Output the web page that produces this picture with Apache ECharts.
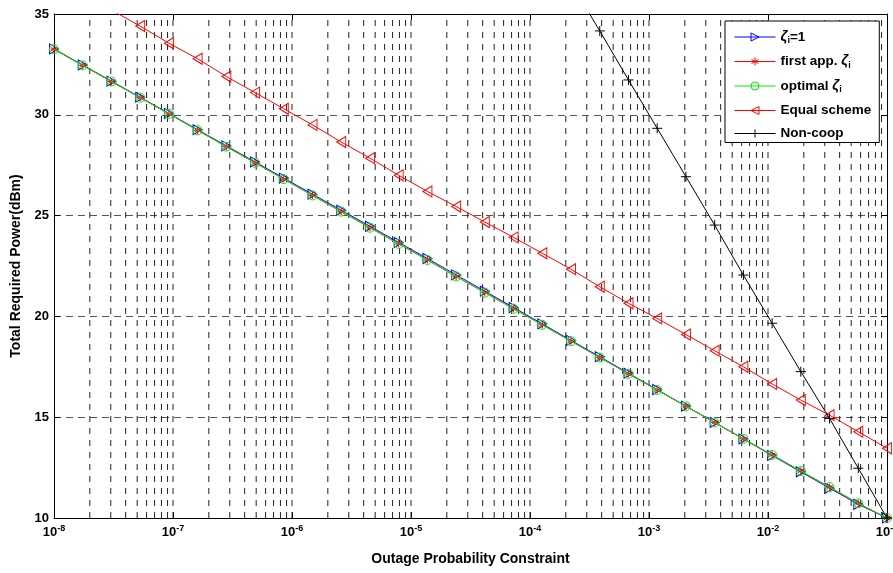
<!DOCTYPE html>
<html>
<head>
<meta charset="utf-8">
<script src="https://cdn.jsdelivr.net/npm/echarts@6/dist/echarts.min.js"></script>
<style>
html,body{margin:0;padding:0;background:#fff;}
#chart{width:893px;height:573px;}
</style>
</head>
<body>
<div id="chart"></div>
<script>
// Outage probability constraint (x), 30 points, log-spaced from 1e-8 to 1e-1
const xValues = [1e-8, 1.743e-8, 3.039e-8, 5.298e-8, 9.237e-8, 1.610e-7, 2.807e-7, 4.894e-7, 8.532e-7, 1.487e-6,
  2.593e-6, 4.520e-6, 7.880e-6, 1.374e-5, 2.395e-5, 4.175e-5, 7.279e-5, 1.269e-4, 2.212e-4, 3.857e-4,
  6.723e-4, 1.172e-3, 2.043e-3, 3.562e-3, 6.210e-3, 1.083e-2, 1.887e-2, 3.290e-2, 5.736e-2, 1e-1];

const seriesNames = ['ζi=1', 'first app. ζi', 'optimal ζi', 'Equal scheme', 'Non-coop'];

const zeta1 = [33.27, 32.47, 31.67, 30.87, 30.07, 29.26, 28.46, 27.66, 26.86, 26.06,
  25.27, 24.47, 23.67, 22.87, 22.06, 21.25, 20.44, 19.63, 18.81, 18.0,
  17.18, 16.37, 15.55, 14.74, 13.92, 13.1, 12.29, 11.48, 10.68, 10.0];
const firstApp = [33.25, 32.45, 31.65, 30.85, 30.05, 29.23, 28.42, 27.62, 26.81, 26.0,
  25.2, 24.4, 23.6, 22.8, 21.98, 21.18, 20.38, 19.58, 18.77, 17.96,
  17.15, 16.35, 15.54, 14.74, 13.93, 13.13, 12.33, 11.53, 10.73, 10.0];
const optimal = [33.25, 32.45, 31.65, 30.85, 30.05, 29.23, 28.42, 27.62, 26.81, 26.0,
  25.2, 24.4, 23.6, 22.8, 21.98, 21.18, 20.38, 19.58, 18.77, 17.96,
  17.15, 16.35, 15.54, 14.74, 13.93, 13.13, 12.33, 11.53, 10.73, 10.0];
const equalScheme = [36.8, 36.0, 35.2, 34.4, 33.55, 32.78, 31.9, 31.1, 30.3, 29.5,
  28.65, 27.85, 27.0, 26.2, 25.45, 24.68, 23.92, 23.13, 22.34, 21.47,
  20.65, 19.9, 19.1, 18.3, 17.5, 16.65, 15.85, 15.1, 14.28, 13.46];
const nonCoop = [null, null, null, null, null, null, null, null, null, null,
  null, null, null, null, null, null, null, null, 36.55, 34.16,
  31.73, 29.33, 26.93, 24.53, 22.05, 19.66, 17.26, 14.94, 12.47, 10.0];

// axis ticks
const xDecades = [-8, -7, -6, -5, -4, -3, -2, -1];
const minorMantissas = [2, 3, 4, 5, 6, 7, 8, 9];
const yMin = 10, yMax = 35, yStep = 5;

const FONT = '"Liberation Sans", Arial, sans-serif';

function pairs(arr) {
  return xValues.map((x, i) => [x, arr[i] === null ? '-' : arr[i]]);
}

// vertical grid positions (majors + minors inside range), drawn as broken line segments
const vGrid = [];
xDecades.forEach((d, k) => {
  if (k > 0 && k < xDecades.length - 1) vGrid.push(Math.pow(10, d));
  if (k < xDecades.length - 1) minorMantissas.forEach(m => vGrid.push(m * Math.pow(10, d)));
});
const vGridData = [];
vGrid.forEach(v => { vGridData.push([v, yMin], [v, yMax], [v, '-']); });

const triRight = 'path://M0,0L10,5L0,10Z';
const triLeft = 'path://M10,0L0,5L10,10Z';
const star = 'path://M5,0L5,10M0.7,2.5L9.3,7.5M9.3,2.5L0.7,7.5M0,5L10,5';
const plus = 'path://M5,0L5,10M0,5L10,5';
const clear = 'rgba(0,0,0,0)';
const colors = ['#0000ff', '#ff0000', '#00ee00', '#ff0000', '#000000'];

function mkSeries(name, arr, color, symbol, size, z) {
  return {
    name: name,
    type: 'line',
    data: pairs(arr),
    symbol: symbol,
    symbolSize: size,
    showAllSymbol: true,
    clip: true,
    z: z,
    color: color,
    lineStyle: { color: color, width: 1 },
    itemStyle: { color: clear, borderColor: color, borderWidth: 1 },
    emphasis: { disabled: true },
    animation: false
  };
}

const logAxisBase = {
  type: 'log', logBase: 10, min: 1e-8, max: 1e-1, splitNumber: 7,
  axisLine: { show: true, onZero: false, lineStyle: { color: '#000', width: 1 } },
  axisTick: { show: true, inside: true, length: 6, lineStyle: { color: '#000' } },
  splitLine: { show: false }
};
const valAxisBase = {
  type: 'value', min: yMin, max: yMax, interval: yStep,
  axisLine: { show: true, onZero: false, lineStyle: { color: '#000', width: 1 } },
  axisTick: { show: true, inside: true, length: 6, lineStyle: { color: '#000' } }
};

const chart = echarts.init(document.getElementById('chart'), null, { renderer: 'canvas' });
chart.setOption({
  animation: false,
  backgroundColor: '#fff',
  grid: { left: 54, right: 6, top: 14, bottom: 55, containLabel: false, outerBoundsMode: 'none' },
  xAxis: [
    Object.assign({}, logAxisBase, {
      position: 'bottom',
      name: 'Outage Probability Constraint',
      nameLocation: 'middle',
      nameGap: 34,
      nameTextStyle: { fontFamily: FONT, fontWeight: 'bold', fontSize: 14, color: '#000' },
      axisLabel: {
        margin: 6,
        color: '#000',
        formatter: function (v) {
          const e = Math.round(Math.log10(v));
          return '{b|10}{s|' + e + '}';
        },
        rich: {
          b: { fontFamily: FONT, fontWeight: 'bold', fontSize: 13, color: '#000' },
          s: { fontFamily: FONT, fontWeight: 'bold', fontSize: 9, color: '#000', padding: [0, 0, 8, 0] }
        }
      }
    }),
    Object.assign({}, logAxisBase, { position: 'top', axisLabel: { show: false } })
  ],
  yAxis: [
    Object.assign({}, valAxisBase, {
      position: 'left',
      name: 'Total Required Power(dBm)',
      nameLocation: 'middle',
      nameGap: 24,
      nameTextStyle: { fontFamily: FONT, fontWeight: 'bold', fontSize: 14, color: '#000' },
      axisLabel: { margin: 5, fontFamily: FONT, fontWeight: 'bold', fontSize: 13, color: '#000' },
      splitLine: { show: true, lineStyle: { color: '#555', width: 1, type: [7, 5] } }
    }),
    Object.assign({}, valAxisBase, { position: 'right', axisLabel: { show: false }, splitLine: { show: false } })
  ],
  legend: {
    orient: 'vertical',
    left: 725,
    top: 21,
    selectedMode: false,
    backgroundColor: '#fff',
    borderColor: '#000',
    borderWidth: 1,
    borderRadius: 0,
    padding: [9, 8, 2, 9],
    itemWidth: 41,
    itemHeight: 10,
    itemGap: 9,
    lineStyle: { width: 1 },
    data: seriesNames.map((n, i) => ({
      name: n,
      itemStyle: { color: clear, borderColor: colors[i], borderWidth: 1 },
      lineStyle: { color: colors[i], width: 1 }
    })),
    formatter: function (name) {
      return name.replace('ζi', '{z|ζ}{s|i}');
    },
    textStyle: {
      fontFamily: FONT, fontWeight: 'bold', fontSize: 13.5, color: '#000',
      rich: {
        z: { fontFamily: FONT, fontWeight: 'bold', fontStyle: 'italic', fontSize: 14, color: '#000' },
        s: { fontFamily: FONT, fontWeight: 'bold', fontSize: 9, color: '#000', padding: [8, 0, 0, 0] }
      }
    }
  },
  series: [
    {
      name: 'grid',
      type: 'line',
      data: vGridData,
      z: 1,
      silent: true,
      symbol: 'none',
      connectNulls: false,
      lineStyle: { color: '#222', width: 1, type: [6, 6] },
      emphasis: { disabled: true },
      animation: false
    },
    mkSeries(seriesNames[0], zeta1, colors[0], triRight, [9, 10], 3),
    mkSeries(seriesNames[1], firstApp, colors[1], star, 7, 4),
    mkSeries(seriesNames[2], optimal, colors[2], 'circle', 9, 5),
    mkSeries(seriesNames[3], equalScheme, colors[3], triLeft, [9, 11], 6),
    mkSeries(seriesNames[4], nonCoop, colors[4], plus, 10, 7)
  ]
});
</script>
</body>
</html>
